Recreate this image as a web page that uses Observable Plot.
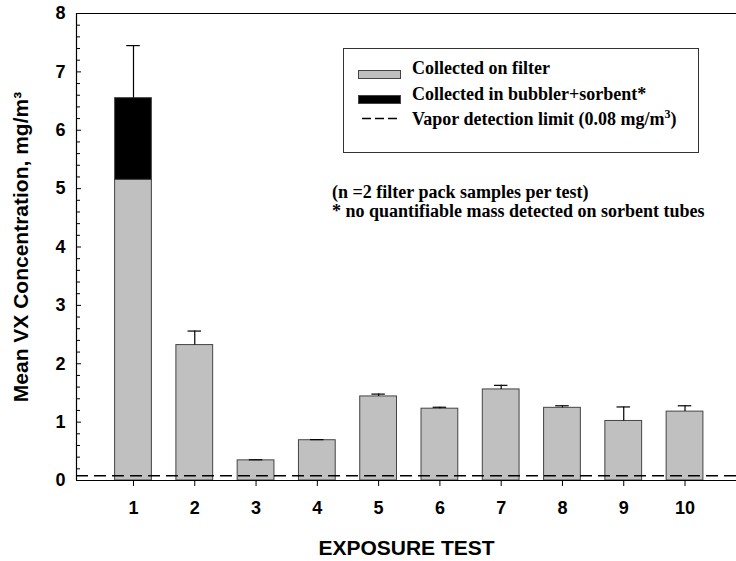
<!DOCTYPE html>
<html><head><meta charset="utf-8">
<script src="https://cdn.jsdelivr.net/npm/d3@7"></script>
<script src="https://cdn.jsdelivr.net/npm/@observablehq/plot@0.6"></script>
<style>body{margin:0;background:#fff}#chart svg{display:block}</style>
</head><body><div id="chart"></div>
<script>
// ---- data ----
const tests = [1, 2, 3, 4, 5, 6, 7, 8, 9, 10];
const filterMean = [5.15, 2.32, 0.345, 0.69, 1.44, 1.23, 1.56, 1.245, 1.02, 1.18];
const bubblerMean = [1.40, 0, 0, 0, 0, 0, 0, 0, 0, 0];
const errorTop = [7.45, 2.56, 0.355, 0.70, 1.48, 1.255, 1.63, 1.28, 1.26, 1.28];
const detectionLimit = [0.08];
const yTickLabels = [0, 1, 2, 3, 4, 5, 6, 7, 8];
const xTickLabels = tests;
const legendLabels = ["Collected on filter", "Collected in bubbler+sorbent*", "Vapor detection limit (0.08 mg/m"];
const notes = ["(n =2 filter pack samples per test)", "* no quantifiable mass detected on sorbent tubes"];
const yTitle = "Mean VX Concentration, mg/m\u00B3";
const xTitle = "EXPOSURE TEST";

const rows = tests.map((t, i) => ({
  test: t, filter: filterMean[i], bubbler: bubblerMean[i],
  total: filterMean[i] + bubblerMean[i], err: errorTop[i]
}));
const yMinor = d3.range(0, 8.001, 0.2).filter(v => Math.abs(v - Math.round(v)) > 1e-6);

const W = 736, H = 561, mL = 76, mT = 13, mB = 81, mR = 0;
const plotW = W - mL - mR;
const xDomain = [0.07, 10.84];
const serif = "'Liberation Serif', 'Times New Roman', serif";

function legend() {
  const g = d3.create("svg:g").attr("font-family", serif).attr("font-weight", "bold")
    .attr("font-size", 18).attr("fill", "#000").attr("text-anchor", "start");
  g.append("rect").attr("x", 343.5).attr("y", 48.5).attr("width", 355).attr("height", 104)
    .attr("fill", "#fff").attr("stroke", "#333").attr("stroke-width", 1);
  g.append("rect").attr("x", 358.5).attr("y", 70.5).attr("width", 42).attr("height", 8)
    .attr("fill", "#c0c0c0").attr("stroke", "#444");
  g.append("rect").attr("x", 358.5).attr("y", 95.5).attr("width", 42).attr("height", 8)
    .attr("fill", "#000").attr("stroke", "#444");
  g.append("line").attr("x1", 362).attr("x2", 398).attr("y1", 118.5).attr("y2", 118.5)
    .attr("stroke", "#000").attr("stroke-width", 1.3).attr("stroke-dasharray", "9,4");
  g.append("text").attr("x", 412).attr("y", 74).text(legendLabels[0]);
  g.append("text").attr("x", 412).attr("y", 100).text(legendLabels[1]);
  const t3 = g.append("text").attr("x", 412).attr("y", 125).text(legendLabels[2]);
  t3.append("tspan").attr("dy", -7).attr("font-size", 12).text("3");
  t3.append("tspan").attr("dy", 7).text(")");
  g.append("text").attr("x", 332).attr("y", 198).text(notes[0]);
  g.append("text").attr("x", 332).attr("y", 217).text(notes[1]);
  return g.node();
}

const chart = Plot.plot({
  width: W, height: H,
  marginLeft: mL, marginTop: mT, marginBottom: mB, marginRight: mR,
  style: {fontFamily: "'Liberation Sans', Arial, sans-serif", fontWeight: "bold", fontSize: "18px", background: "#fff", color: "#000"},
  x: {domain: xDomain},
  y: {domain: [0, 8]},
  marks: [
    Plot.rect(rows, {x1: d => d.test - 0.3, x2: d => d.test + 0.3, y1: 0, y2: "filter", fill: "#c0c0c0", stroke: "#444", strokeWidth: 1}),
    Plot.rect(rows.filter(d => d.bubbler > 0), {x1: d => d.test - 0.3, x2: d => d.test + 0.3, y1: "filter", y2: "total", fill: "#000", stroke: "#444", strokeWidth: 1}),
    Plot.ruleX(rows, {x: "test", y1: "total", y2: "err", stroke: "#000", strokeWidth: 1.2}),
    Plot.ruleY(rows, {y: "err", x1: d => d.test - 0.11, x2: d => d.test + 0.11, stroke: "#000", strokeWidth: 1.2}),
    Plot.ruleY(detectionLimit, {stroke: "#000", strokeWidth: 1.5, strokeDasharray: "12,6"}),
    // frame
    Plot.ruleY([0], {stroke: "#000", strokeWidth: 1.2}),
    Plot.ruleY([8], {stroke: "#000", strokeWidth: 1.2}),
    Plot.ruleX([xDomain[0]], {stroke: "#000", strokeWidth: 1.2}),
    // y ticks (inward)
    Plot.ruleY(yTickLabels, {insetRight: plotW - 5, stroke: "#000"}),
    Plot.ruleY(yMinor, {insetRight: plotW - 4, stroke: "#000"}),
    Plot.axisY({ticks: yTickLabels, tickSize: 0, tickPadding: 11, label: null, fontSize: 18, fontWeight: "bold"}),
    Plot.axisX({ticks: xTickLabels, tickSize: 6, tickPadding: 15, label: null, tickFormat: d => String(d), fontSize: 18, fontWeight: "bold"}),
    Plot.text([yTitle], {frameAnchor: "left", dx: -55, rotate: -90, textAnchor: "middle", lineAnchor: "middle", fontSize: 21, fontWeight: "bold"}),
    Plot.text([xTitle], {frameAnchor: "bottom", dy: 68, textAnchor: "middle", lineAnchor: "middle", fontSize: 21, fontWeight: "bold"}),
    legend
  ]
});
document.getElementById("chart").appendChild(chart);
</script>
</body></html>
